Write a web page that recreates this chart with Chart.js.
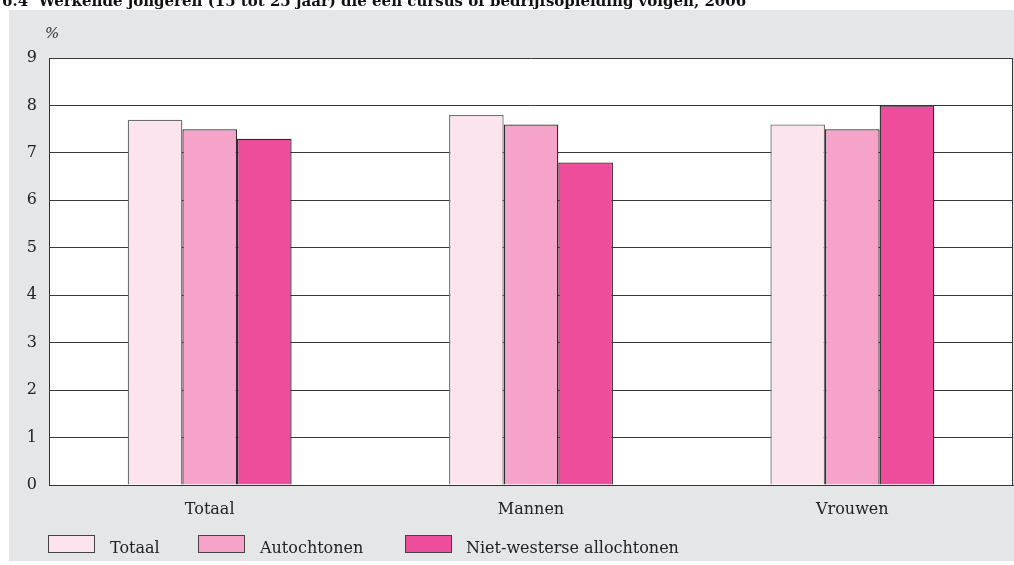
<!DOCTYPE html>
<html>
<head>
<meta charset="utf-8">
<script src="https://cdn.jsdelivr.net/npm/chart.js@4.4.1/dist/chart.umd.min.js"></script>
<style>
    html, body { margin: 0; padding: 0; background: #fff; }
    #wrap { width: 1014px; height: 565px; }
</style>
</head>
<body>
<div id="wrap"><canvas id="chart" width="1014" height="565"></canvas></div>
<script>
// Data
const categories = ['Totaal', 'Mannen', 'Vrouwen'];
const seriesNames = ['Totaal', 'Autochtonen', 'Niet-westerse allochtonen'];
const totaalValues = [7.7, 7.8, 7.6];
const autochtonenValues = [7.5, 7.6, 7.5];
const nietWestersValues = [7.3, 6.8, 8.0];
const yTicks = [0, 1, 2, 3, 4, 5, 6, 7, 8, 9];

const titleText = '6.4  Werkende jongeren (15 tot 25 jaar) die een cursus of bedrijfsopleiding volgen, 2006';
const serif = '"DejaVu Serif", "Liberation Serif", serif';

// Grey panel, white plot area, title, % label and right border
const decorPlugin = {
    id: 'decor',
    beforeDraw(chart) {
        const ctx = chart.ctx;
        const a = chart.chartArea;
        ctx.save();
        ctx.fillStyle = '#e5e6e8';
        ctx.fillRect(9, 10, 1005, 551);
        ctx.fillStyle = '#ffffff';
        ctx.fillRect(a.left, a.top, a.right - a.left, a.bottom - a.top);
        ctx.fillStyle = '#111';
        ctx.font = 'bold 15px ' + serif;
        ctx.textBaseline = 'alphabetic';
        ctx.fillText(titleText, 2, 6);
        ctx.font = 'italic 15px ' + serif;
        ctx.fillStyle = '#333';
        ctx.fillText('%', 45, 38);
        ctx.restore();
    },
    afterDraw(chart) {
        const ctx = chart.ctx;
        const a = chart.chartArea;
        ctx.save();
        ctx.strokeStyle = '#333';
        ctx.lineWidth = 1;
        ctx.beginPath();
        ctx.moveTo(Math.round(a.right) - 0.5, a.top);
        ctx.lineTo(Math.round(a.right) - 0.5, a.bottom);
        ctx.stroke();

        // legend
        const items = [
            { x: 48, textX: 110 },
            { x: 198, textX: 260 },
            { x: 405, textX: 466 }
        ];
        ctx.font = '16px ' + serif;
        ctx.textBaseline = 'middle';
        chart.data.datasets.forEach((ds, i) => {
            const it = items[i];
            ctx.fillStyle = ds.backgroundColor;
            ctx.fillRect(it.x, 535, 47, 18);
            ctx.strokeStyle = '#444';
            ctx.strokeRect(it.x + 0.5, 535.5, 46, 17);
            ctx.fillStyle = '#222';
            ctx.fillText(ds.label, it.textX, 549);
        });
        ctx.restore();
    }
};

new Chart(document.getElementById('chart'), {
    type: 'bar',
    data: {
        labels: categories,
        datasets: [
            { label: seriesNames[0], data: totaalValues, backgroundColor: '#fbe4ee', borderColor: '#6f6f6f' },
            { label: seriesNames[1], data: autochtonenValues, backgroundColor: '#f5a3c9', borderColor: '#2a2a2a' },
            { label: seriesNames[2], data: nietWestersValues, backgroundColor: '#ee4d9b', borderColor: '#2a2a2a' }
        ].map(d => Object.assign(d, { borderWidth: 1.3, barPercentage: 1, categoryPercentage: 0.51 }))
    },
    options: {
        responsive: false,
        animation: false,
        layout: { padding: { left: 9, right: 1, top: 58, bottom: 50 } },
        plugins: {
            legend: { display: false },
            tooltip: { enabled: false }
        },
        scales: {
            x: {
                grid: { display: false },
                border: { display: true, color: '#333', width: 1 },
                ticks: { color: '#222', font: { family: serif, size: 16 }, padding: 7 },
                afterFit: s => { s.height = 30; }
            },
            y: {
                min: 0,
                max: 9,
                afterBuildTicks: s => { s.ticks = yTicks.map(v => ({ value: v })); },
                grid: { color: '#3a3a3a', lineWidth: 1, drawTicks: false },
                border: { display: true, color: '#333', width: 1 },
                ticks: { color: '#222', font: { family: serif, size: 16 }, padding: 12 },
                afterFit: s => { s.width = 40; }
            }
        }
    },
    plugins: [decorPlugin]
});
</script>
</body>
</html>
